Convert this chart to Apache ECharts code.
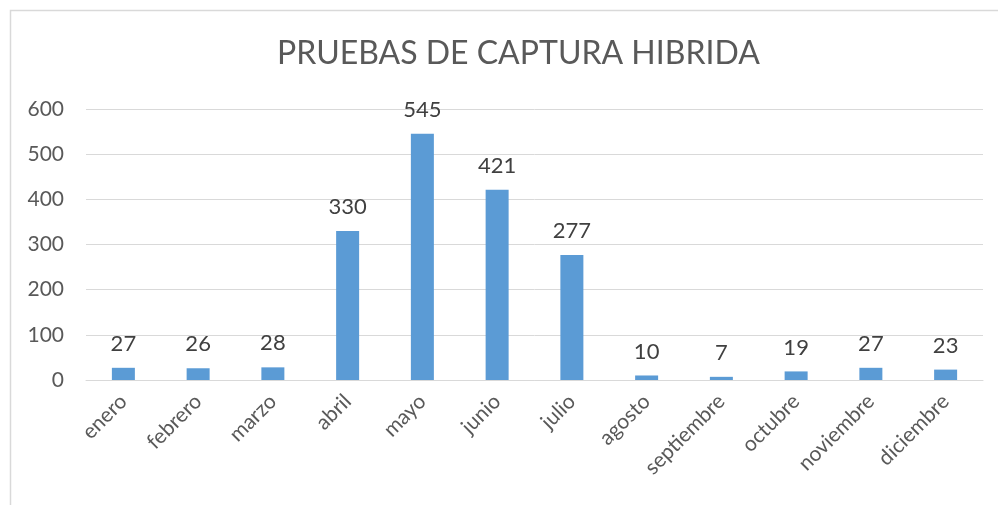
<!DOCTYPE html>
<html>
<head>
<meta charset="utf-8">
<script src="https://cdn.jsdelivr.net/npm/echarts@6/dist/echarts.min.js"></script>
<style>
  html, body { margin: 0; padding: 0; background: #fff; }
  #chart { width: 998px; height: 505px; }
</style>
</head>
<body>
<div id="chart"></div>
<script>
var meses = ['enero', 'febrero', 'marzo', 'abril', 'mayo', 'junio', 'julio', 'agosto', 'septiembre', 'octubre', 'noviembre', 'diciembre'];
var pruebas = [27, 26, 28, 330, 545, 421, 277, 10, 7, 19, 27, 23];
var yTicks = [0, 100, 200, 300, 400, 500, 600];

var chart = echarts.init(document.getElementById('chart'));
var fuente = 'Lato, "Open Sans", sans-serif';

option = {
    animation: false,
    textStyle: { fontFamily: fuente },
    title: {
        text: 'PRUEBAS DE CAPTURA HIBRIDA',
        left: 272,
        top: 33,
        textStyle: { fontFamily: fuente, fontSize: 32, fontWeight: 'normal', color: '#595959' }
    },
    graphic: [{
        type: 'rect',
        shape: { x: 10.5, y: 10.5, width: 1000, height: 600 },
        style: { fill: 'none', stroke: '#d9d9d9', lineWidth: 1.5 },
        silent: true
    }],
    grid: { left: 86, right: 15, top: 109, bottom: 125 },
    xAxis: {
        type: 'category',
        data: meses,
        axisTick: { show: false },
        axisLine: { lineStyle: { color: '#d9d9d9', width: 1 } },
        axisLabel: { rotate: 45, margin: 18, fontSize: 21, color: '#595959', fontFamily: fuente, interval: 0 }
    },
    yAxis: {
        type: 'value',
        min: yTicks[0],
        max: yTicks[yTicks.length - 1],
        interval: 100,
        axisLine: { show: false },
        axisTick: { show: false },
        splitLine: { lineStyle: { color: '#d9d9d9', width: 1 } },
        axisLabel: { fontSize: 21, color: '#595959', margin: 22, fontFamily: fuente }
    },
    series: [{
        name: 'pruebas',
        type: 'bar',
        data: pruebas,
        barWidth: 23,
        itemStyle: { color: '#5b9bd5' },
        label: {
            show: true,
            position: 'top',
            distance: 13,
            fontSize: 22,
            color: '#404040',
            fontFamily: fuente
        }
    }]
};
chart.setOption(option);
window.addEventListener('resize', chart.resize);
</script>
</body>
</html>
